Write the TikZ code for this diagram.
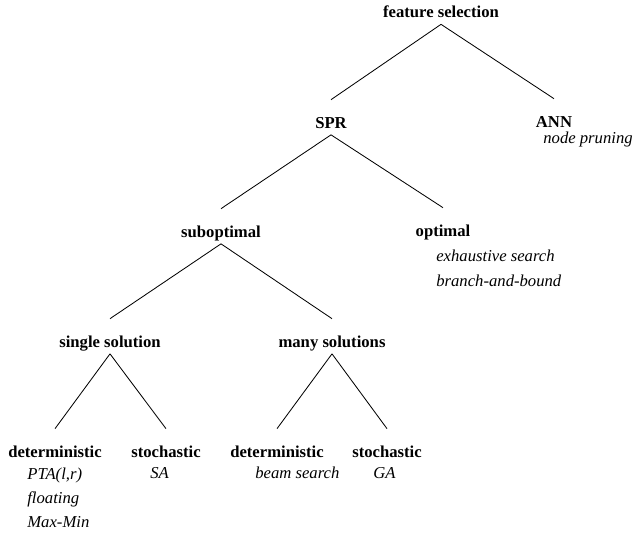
\documentclass[tikz,border=0pt]{standalone}
\usepackage{fontspec}
\setmainfont{Liberation Serif}[BoldFont=Liberation Serif Bold, ItalicFont=Liberation Serif Italic]
\begin{document}
\begin{tikzpicture}[x=0.6pt, y=-0.6pt,
    cat/.style={font=\bfseries, inner sep=0pt, text height=16.8pt, text depth=3.9pt, anchor=base},
    alg/.style={font=\itshape, inner sep=0pt, anchor=base west},
    branch/.style={line width=0.5pt}]
    \useasboundingbox (0, 0) rectangle (634, 534);
    % categories
    \node[cat] (fs) at (441, 17.5) {feature selection};
    \node[cat] (spr) at (331, 128) {SPR};
    \node[cat] (ann) at (554, 127) {ANN};
    \node[cat] (sub) at (221, 237) {suboptimal};
    \node[cat] (opt) at (443, 236) {optimal};
    \node[cat] (single) at (110, 347) {single solution};
    \node[cat] (many) at (332, 347) {many solutions};
    \node[cat] (det1) at (55, 457) {deterministic};
    \node[cat] (sto1) at (166, 457) {stochastic};
    \node[cat] (det2) at (277, 457) {deterministic};
    \node[cat] (sto2) at (387, 457) {stochastic};
    % methods
    \node[alg] (prune) at (543, 143) {node pruning};
    \node[alg] (exh) at (436, 261) {exhaustive search};
    \node[alg] (bnb) at (436, 286) {branch-and-bound};
    \node[alg] (pta) at (27, 479) {PTA(l,r)};
    \node[alg] (float) at (27, 503) {floating};
    \node[alg] (maxmin) at (27, 527) {Max-Min};
    \node[alg] (sa) at (150, 478) {SA};
    \node[alg] (beam) at (255, 478) {beam search};
    \node[alg] (ga) at (373, 478) {GA};
    % tree
    \draw[branch] (fs.south) -- (spr.north);
    \draw[branch] (fs.south) -- (ann.north);
    \draw[branch] (spr.south) -- (sub.north);
    \draw[branch] (spr.south) -- (opt.north);
    \draw[branch] (sub.south) -- (single.north);
    \draw[branch] (sub.south) -- (many.north);
    \draw[branch] (single.south) -- (det1.north);
    \draw[branch] (single.south) -- (sto1.north);
    \draw[branch] (many.south) -- (det2.north);
    \draw[branch] (many.south) -- (sto2.north);
\end{tikzpicture}
\end{document}
